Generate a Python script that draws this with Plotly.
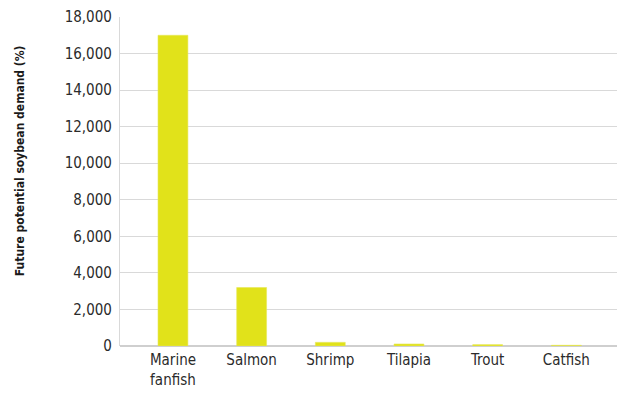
import plotly.graph_objects as go

# Future soybean demand by aquaculture species group
species = ["Marine<br>fanfish", "Salmon", "Shrimp", "Tilapia", "Trout", "Catfish"]
demand_pct = [17000, 3200, 200, 110, 75, 40]
y_ticks = [0, 2000, 4000, 6000, 8000, 10000, 12000, 14000, 16000, 18000]
y_title = "Future potential soybean demand (%)"

label_font = "DejaVu Sans Condensed, Liberation Sans Narrow, sans-serif"

fig = go.Figure(
    go.Bar(
        x=list(range(len(species))),
        y=demand_pct,
        width=0.38,
        marker=dict(color="#E1E21A", line=dict(color="#E6E85A", width=0.6)),
    )
)

fig.update_layout(
    width=618,
    height=396,
    margin=dict(l=120, r=1, t=17, b=50),
    paper_bgcolor="white",
    plot_bgcolor="white",
    showlegend=False,
    font=dict(family=label_font, size=15, color="#2b2b2b"),
)

fig.update_xaxes(
    range=[-0.673, 5.644],
    tickmode="array",
    tickvals=list(range(len(species))),
    ticktext=species,
    showgrid=False,
    showline=False,
    ticks="",
    ticklabelstandoff=3,
    tickfont=dict(size=15),
)

fig.update_yaxes(
    range=[0, 18000],
    tickvals=y_ticks,
    tickformat=",d",
    showgrid=True,
    gridcolor="#d9d9d9",
    gridwidth=1.2,
    showline=True,
    linecolor="#d9d9d9",
    linewidth=1.2,
    zeroline=True,
    zerolinecolor="#cfcfcf",
    zerolinewidth=1.5,
    ticks="",
    ticklabelstandoff=4,
    tickfont=dict(size=15),
)

# Rotated axis title
fig.add_annotation(
    text="<b>" + y_title + "</b>",
    textangle=-90,
    xref="paper",
    yref="paper",
    x=-0.201,
    y=0.562,
    xanchor="center",
    yanchor="middle",
    showarrow=False,
    font=dict(size=12, color="#1a1a1a"),
)

fig.write_html("out.html")
